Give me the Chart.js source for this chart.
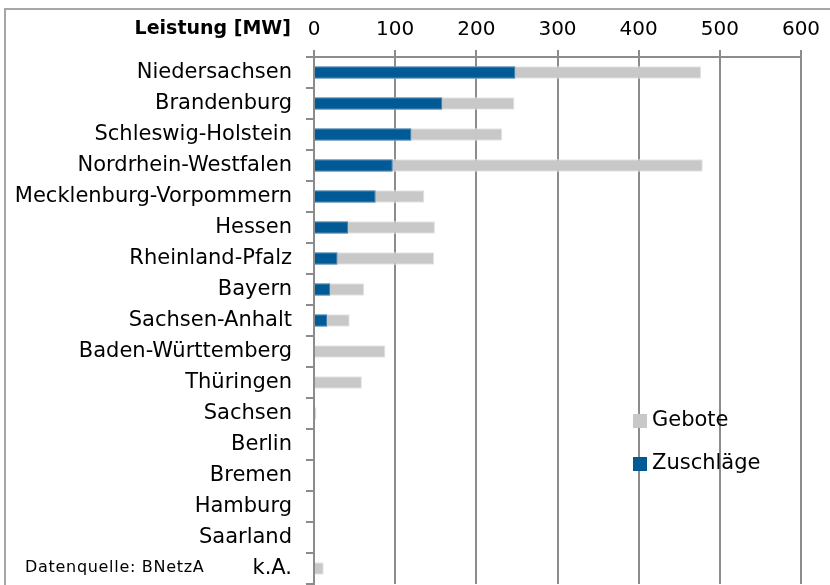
<!DOCTYPE html>
<html lang="de">
<head>
  <meta charset="UTF-8" />
  <title>Ausschreibung Wind an Land - Gebote und Zuschläge</title>
  <script src="https://cdn.jsdelivr.net/npm/chart.js"></script>
  <style>
    html, body { margin: 0; padding: 0; background: #fff; }
    #box { position: relative; width: 830px; height: 585px; }
  </style>
</head>
<body>
  <div id="box">
    <canvas id="grafico" width="830" height="585"></canvas>
  </div>
<script>
  // Bundesländer (Reihenfolge wie im Original)
  const laender = ['Niedersachsen', 'Brandenburg', 'Schleswig-Holstein', 'Nordrhein-Westfalen',
    'Mecklenburg-Vorpommern', 'Hessen', 'Rheinland-Pfalz', 'Bayern', 'Sachsen-Anhalt',
    'Baden-Württemberg', 'Thüringen', 'Sachsen', 'Berlin', 'Bremen', 'Hamburg', 'Saarland', 'k.A.'];

  // Leistung in MW
  const gebote = [477, 247, 232, 479, 136, 149, 148, 62, 44, 88, 59, 3, 0, 0, 0, 0, 12];
  const zuschlaege = [248, 158, 120, 97, 76, 42, 29, 20, 16, 0, 0, 0, 0, 0, 0, 0, 0];

  const achseMin = 0;
  const achseMax = 600;
  const achseSchritt = 100;

  const schrift = "'DejaVu Sans', sans-serif";
  const grau = '#8c8c8c';

  // Rahmen, Achsentitel, Quelle und Legende zeichnen
  const extras = {
    id: 'extras',
    beforeDraw(chart) {
      const ctx = chart.ctx;
      ctx.save();
      ctx.strokeStyle = '#a6a6a6';
      ctx.lineWidth = 2;
      ctx.strokeRect(5, 9, 900, 700);
      ctx.restore();
    },
    afterDraw(chart) {
      const ctx = chart.ctx;
      ctx.save();
      ctx.fillStyle = '#000';
      ctx.textBaseline = 'middle';
      ctx.textAlign = 'right';
      ctx.font = "bold 19px " + schrift;
      ctx.fillText('Leistung [MW]', 291, 29);

      ctx.textAlign = 'left';
      ctx.font = "16px " + schrift;
      ctx.letterSpacing = '0.7px';
      ctx.fillText('Datenquelle: BNetzA', 25, 568);
      ctx.letterSpacing = '0px';

      // Legende: Gebote oben, Zuschläge unten
      const eintraege = [chart.data.datasets[0], chart.data.datasets[1]];
      ctx.font = "21px " + schrift;
      eintraege.forEach(function (ds, i) {
        const y = 421 + i * 43;
        ctx.fillStyle = ds.backgroundColor;
        ctx.fillRect(633, y - 7, 14, 14);
        ctx.fillStyle = '#000';
        ctx.fillText(ds.label, 652, y);
      });
      ctx.restore();
    }
  };

  const dados = {
    labels: laender,
    datasets: [{
      label: 'Gebote',
      data: gebote,
      backgroundColor: '#c8c8c8',
      borderColor: '#e4e4e4',
      borderWidth: 1,
      barPercentage: 0.4,
      categoryPercentage: 1,
      order: 2
    },
    {
      label: 'Zuschläge',
      data: zuschlaege,
      backgroundColor: '#005a96',
      borderColor: '#3f7fae',
      borderWidth: 1,
      barPercentage: 0.4,
      categoryPercentage: 1,
      order: 1
    }]
  };

  const config = {
    type: 'bar',
    data: dados,
    options: {
      indexAxis: 'y',
      responsive: false,
      animation: false,
      layout: { padding: { top: 0, left: 0, right: 29, bottom: 1 } },
      plugins: {
        legend: { display: false },
        tooltip: { enabled: false }
      },
      scales: {
        x: {
          position: 'top',
          min: achseMin,
          max: achseMax,
          stacked: false,
          ticks: {
            stepSize: achseSchritt,
            color: '#000',
            padding: 8,
            font: { family: schrift, size: 20 }
          },
          grid: { color: grau, lineWidth: 2, tickLength: 7 },
          border: { color: grau, width: 2 },
          afterFit(scale) { scale.height = 57; }
        },
        y: {
          stacked: true,
          ticks: {
            color: '#000',
            padding: 14,
            font: { family: schrift, size: 21 }
          },
          grid: { offset: true, drawOnChartArea: false, color: grau, lineWidth: 2, tickLength: 8 },
          border: { color: grau, width: 2 },
          afterFit(scale) {
            scale.width = 314;
            scale.paddingTop = 0;
            scale.paddingBottom = 0;
          }
        }
      }
    },
    plugins: [extras]
  };

  let meuGrafico = new Chart(document.getElementById('grafico'), config);
</script>
</body>
</html>
